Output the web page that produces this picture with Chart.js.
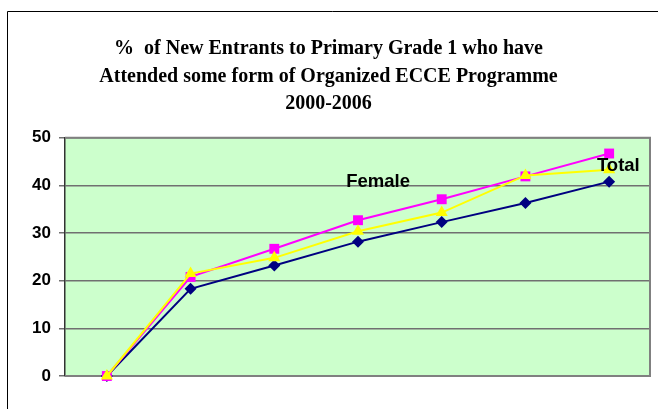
<!DOCTYPE html>
<html>
<head>
<meta charset="utf-8">
<script src="https://cdn.jsdelivr.net/npm/chart.js@4/dist/chart.umd.min.js"></script>
<style>
  html, body { margin: 0; padding: 0; background: #ffffff; }
  #wrap { width: 658px; height: 409px; position: relative; }
</style>
</head>
<body>
<div id="wrap"><canvas id="c" width="658" height="409"></canvas></div>
<script>
// ---- data ----
const years = ['2000', '2001', '2002', '2003', '2004', '2005', '2006'];
const totalValues  = [0, 18.3, 23.2, 28.2, 32.3, 36.3, 40.8];
const femaleValues = [0, 20.8, 26.7, 32.7, 37.1, 41.9, 46.7];
const maleValues   = [0, 21.5, 24.8, 30.4, 34.3, 42.1, 43.3];
const yTicks = [0, 10, 20, 30, 40, 50];
const titleLines = [
  '%  of New Entrants to Primary Grade 1 who have',
  'Attended some form of Organized ECCE Programme',
  '2000-2006'
];
const annotations = [
  { text: 'Female', xIndex: 3.24, value: 40.8 },
  { text: 'Total',  xIndex: 6.11, value: 44.0 }
];

const decor = {
  id: 'decor',
  beforeDraw(chart) {
    const { ctx, chartArea: a } = chart;
    ctx.save();
    ctx.fillStyle = '#CCFFCC';
    ctx.fillRect(a.left, a.top, a.right - a.left, a.bottom - a.top);
    ctx.restore();
  },
  beforeDatasetsDraw(chart) {
    const { ctx, chartArea: a } = chart;
    ctx.save();
    ctx.strokeStyle = '#808080';
    ctx.lineWidth = 2;
    ctx.beginPath();
    ctx.moveTo(a.left, a.top);
    ctx.lineTo(a.right - 1, a.top);
    ctx.lineTo(a.right - 1, a.bottom);
    ctx.lineTo(a.left, a.bottom);
    ctx.stroke();
    ctx.restore();
  },
  afterDatasetsDraw(chart) {
    const { ctx, scales } = chart;
    ctx.save();
    ctx.fillStyle = '#000000';
    ctx.font = 'bold 18.5px "Liberation Sans", Arial, sans-serif';
    ctx.textAlign = 'center';
    ctx.textBaseline = 'middle';
    annotations.forEach(an => {
      const x = scales.x.getPixelForValue(an.xIndex);
      const y = scales.y.getPixelForValue(an.value);
      ctx.fillText(an.text, x, y);
    });
    ctx.restore();
  },
  afterDraw(chart) {
    const { ctx } = chart;
    ctx.save();
    ctx.strokeStyle = '#000000';
    ctx.lineWidth = 1;
    ctx.beginPath();
    ctx.moveTo(7.5, 409);
    ctx.lineTo(7.5, 11.5);
    ctx.lineTo(658, 11.5);
    ctx.stroke();
    ctx.restore();
  }
};

new Chart(document.getElementById('c'), {
  type: 'line',
  data: {
    labels: years,
    datasets: [
      {
        label: 'Total',
        data: totalValues,
        borderColor: '#000080',
        backgroundColor: '#000080',
        borderWidth: 2,
        pointStyle: 'rectRot',
        pointRadius: 6,
        pointBorderWidth: 0,
        tension: 0,
        clip: false,
        order: 3
      },
      {
        label: 'Female',
        data: femaleValues,
        borderColor: '#FF00FF',
        backgroundColor: '#FF00FF',
        borderWidth: 2,
        pointStyle: 'rect',
        pointRadius: 7,
        pointBorderWidth: 0,
        tension: 0,
        clip: false,
        order: 2
      },
      {
        label: 'Male',
        data: maleValues,
        borderColor: '#FFFF00',
        backgroundColor: '#FFFF00',
        borderWidth: 2,
        pointStyle: 'triangle',
        pointRadius: 7,
        pointBorderWidth: 0,
        tension: 0,
        clip: false,
        order: 1
      }
    ]
  },
  options: {
    responsive: false,
    animation: false,
    devicePixelRatio: 1,
    layout: { padding: { left: 0, right: 1, top: 0, bottom: 33 } },
    plugins: {
      legend: { display: false },
      tooltip: { enabled: false },
      title: {
        display: true,
        text: titleLines,
        color: '#000000',
        font: { family: '"Liberation Serif", "Times New Roman", serif', size: 20, weight: 'bold', lineHeight: 1.38 },
        padding: { top: 35, bottom: 20 }
      }
    },
    scales: {
      x: {
        display: false,
        offset: true,
        grid: { display: false }
      },
      y: {
        min: 0,
        max: 50,
        afterBuildTicks(scale) { scale.ticks = yTicks.map(v => ({ value: v })); },
        afterFit(scale) { scale.width = 65; },
        border: { display: true, color: '#333333', width: 1.5 },
        grid: { color: '#707070', lineWidth: 1.5, tickLength: 6, drawTicks: true },
        ticks: {
          color: '#000000',
          padding: 8,
          font: { family: '"Liberation Sans", Arial, sans-serif', size: 17, weight: 'bold' }
        }
      }
    }
  },
  plugins: [decor]
});
</script>
</body>
</html>
